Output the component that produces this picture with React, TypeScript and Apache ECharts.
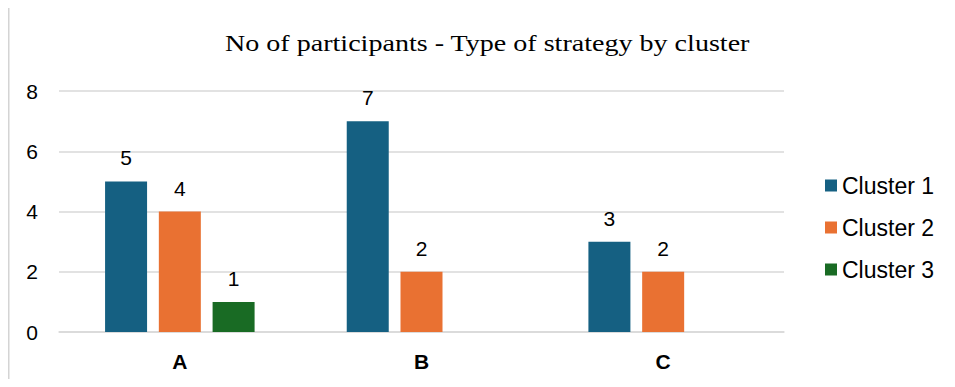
import React, { useEffect, useRef } from "react";
import * as echarts from "echarts";

const categories = ["A", "B", "C"];
const seriesNames = ["Cluster 1", "Cluster 2", "Cluster 3"];
const cluster1 = [5, 7, 3];
const cluster2 = [4, 2, 2];
const cluster3: (number | null)[] = [1, null, null];
const yTicks = { min: 0, max: 8, interval: 2 };
const titleText = "No of participants - Type of strategy by cluster";

const colors = ["#156082", "#E97132", "#196B24"];
const sans = "Liberation Sans, Arial, sans-serif";
const serif = "Liberation Serif, Times New Roman, serif";

export default function App() {
  const ref = useRef<HTMLDivElement>(null);

  useEffect(() => {
    if (!ref.current) return;
    const chart = echarts.init(ref.current, undefined, { renderer: "svg" });
    const values = [cluster1, cluster2, cluster3];

    chart.setOption({
      animation: false,
      backgroundColor: "#ffffff",
      legend: {
        orient: "vertical",
        left: 825,
        top: 174,
        itemWidth: 12,
        itemHeight: 12,
        itemGap: 19,
        padding: 0,
        icon: "rect",
        data: seriesNames,
        textStyle: {
          fontFamily: sans,
          fontSize: 23,
          lineHeight: 23,
          color: "#000000",
        },
      },
      grid: { left: 59, right: 171, top: 91, bottom: 55 },
      xAxis: {
        type: "category",
        data: categories,
        axisLine: { show: true, lineStyle: { color: "#d9d9d9", width: 1.5 } },
        axisTick: { show: false },
        axisLabel: {
          margin: 19,
          fontFamily: sans,
          fontSize: 21,
          fontWeight: "bold",
          color: "#000000",
        },
      },
      yAxis: {
        type: "value",
        min: yTicks.min,
        max: yTicks.max,
        interval: yTicks.interval,
        axisLine: { show: false },
        axisTick: { show: false },
        splitLine: { lineStyle: { color: "#d9d9d9", width: 1.5 } },
        axisLabel: {
          margin: 21,
          fontFamily: sans,
          fontSize: 21,
          color: "#000000",
        },
      },
      series: seriesNames.map((name, i) => ({
        name,
        type: "bar",
        data: values[i],
        barWidth: 42,
        barGap: "28%",
        itemStyle: { color: colors[i] },
        label: {
          show: true,
          position: "top",
          distance: 13,
          fontFamily: sans,
          fontSize: 21,
          color: "#000000",
        },
      })),
      graphic: [
        {
          type: "rect",
          shape: { x: 8.5, y: 5.5, width: 1000, height: 450 },
          style: { fill: "none", stroke: "#d4d4d4", lineWidth: 2 },
          silent: true,
          z: 100,
        },
        {
          // chart title, drawn slightly widened
          type: "text",
          x: 225,
          y: 31,
          scaleX: 1.17,
          style: {
            text: titleText,
            fontFamily: serif,
            fontSize: 24,
            fill: "#000000",
            textVerticalAlign: "top",
          },
          silent: true,
        },
        {
          type: "text",
          x: 57,
          y: -17,
          style: {
            text: ")",
            fontFamily: serif,
            fontSize: 22,
            fill: "#000000",
          },
          silent: true,
        },
      ],
    });

    return () => chart.dispose();
  }, []);

  return (
    <div style={{ margin: -8, width: 955, height: 387, overflow: "hidden" }}>
      <div ref={ref} style={{ width: 955, height: 387 }} />
    </div>
  );
}
